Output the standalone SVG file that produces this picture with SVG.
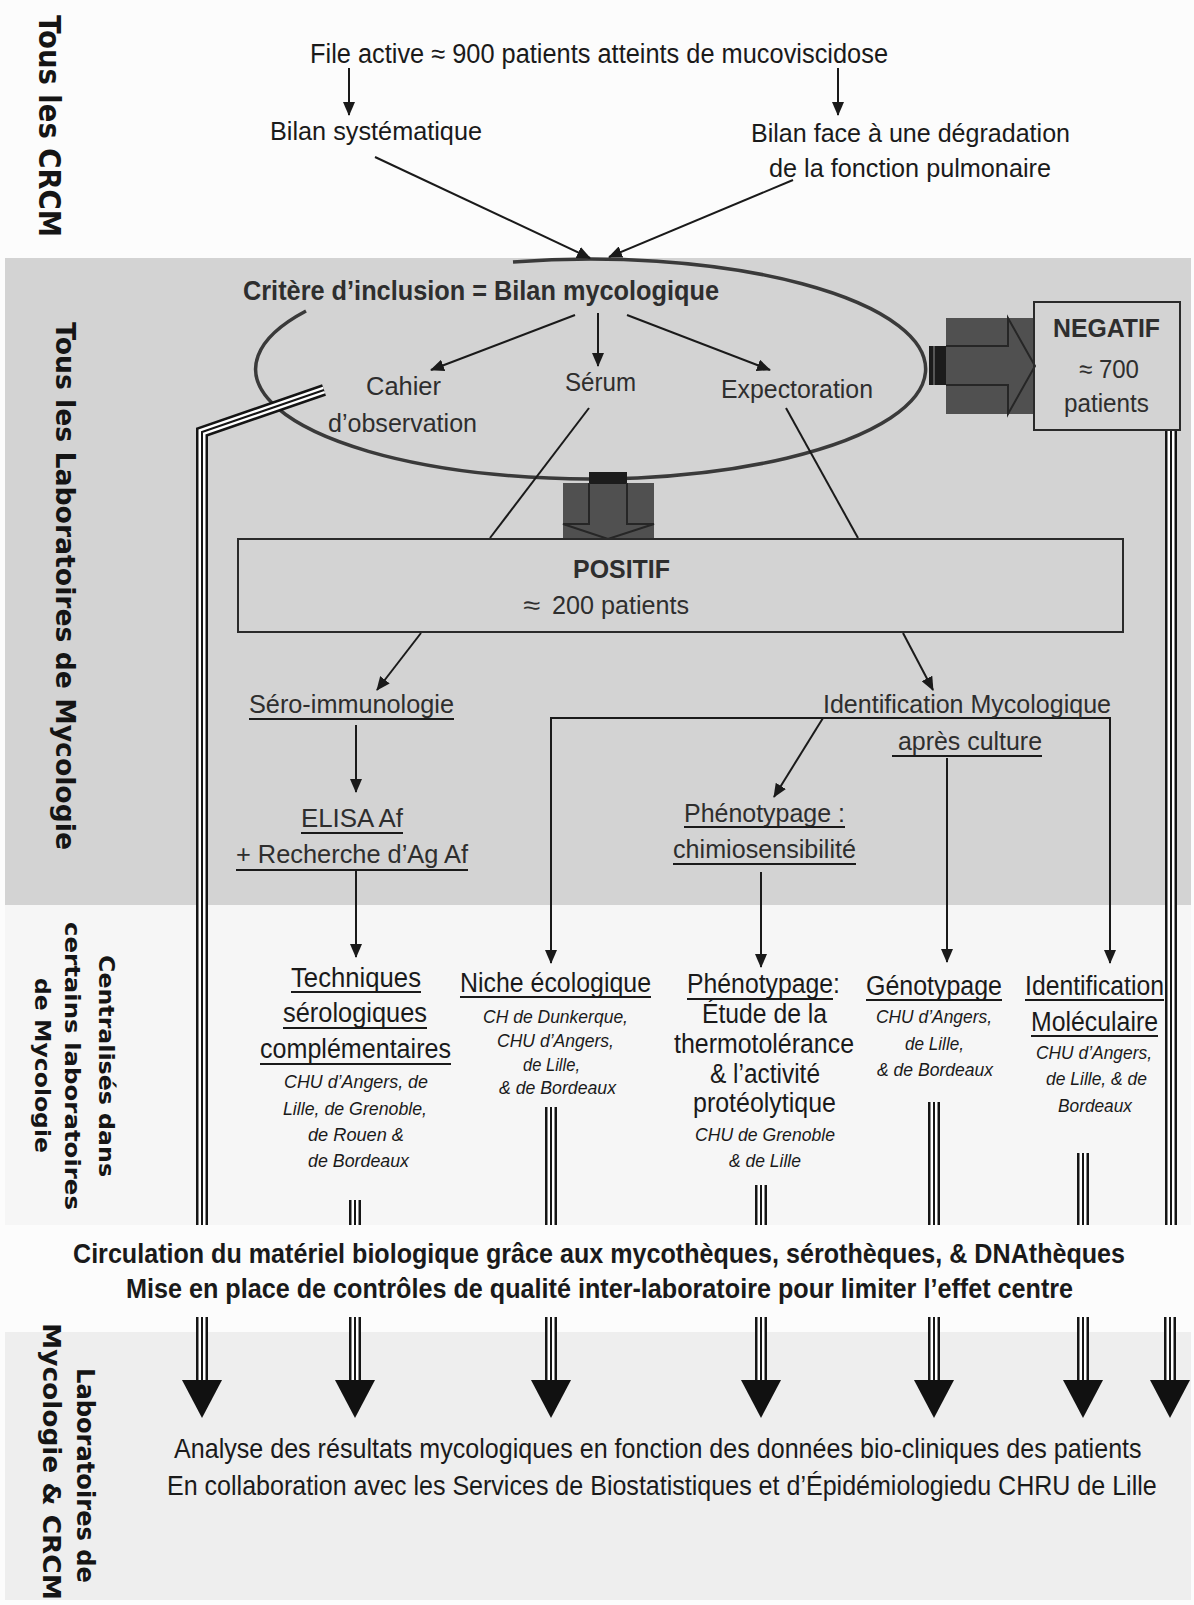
<svg xmlns="http://www.w3.org/2000/svg" xmlns:xlink="http://www.w3.org/1999/xlink" width="1194" height="1605" viewBox="0 0 1194 1605">
<defs>
<style>
.t{font-family:"Liberation Sans Narrow","Liberation Sans",Arial,sans-serif;fill:#1a1a1a}
.g{fill:#2e2e2e}
.b{font-weight:bold}
.i{font-style:italic}
.lab{font-family:"DejaVu Sans","Noto Sans",sans-serif;font-weight:bold;fill:#151515}
.ln{stroke:#1a1a1a;stroke-width:2;fill:none}
.ul{stroke:#1a1a1a;stroke-width:2}
.arr{marker-end:url(#ah)}
.r1{stroke:#151515;stroke-width:12;fill:none}
.r2{stroke:#ffffff;stroke-width:7;fill:none}
.r3{stroke:#151515;stroke-width:2;fill:none}
.box{fill:none;stroke:#2a2a2a;stroke-width:2}
</style>
<marker id="ah" viewBox="0 0 14 12" markerWidth="14" markerHeight="12" refX="13" refY="6" orient="auto" markerUnits="userSpaceOnUse">
<path d="M0,0 L14,6 L0,12 z" fill="#1a1a1a"/>
</marker>
<path id="railL" d="M324,390 L202,432 L202,1225"/>
<path id="railR" d="M1171,430 V1225"/>
<path id="s1" d="M355,1200 V1225"/>
<path id="s2" d="M551,1107 V1225"/>
<path id="s3" d="M761,1185 V1225"/>
<path id="s4" d="M934,1102 V1225"/>
<path id="s5" d="M1083,1153 V1225"/>
<path id="b1" d="M202,1317 V1384"/>
<path id="b2" d="M355,1317 V1384"/>
<path id="b3" d="M551,1317 V1384"/>
<path id="b4" d="M761,1317 V1384"/>
<path id="b5" d="M934,1317 V1384"/>
<path id="b6" d="M1083,1317 V1384"/>
<path id="b7" d="M1170,1317 V1384"/>
</defs>

<g id="background">
<rect x="0" y="0" width="1194" height="1605" fill="#fcfcfc"/>
<rect x="5" y="258" width="1186" height="647" fill="#d3d3d3"/>
<rect x="5" y="905" width="1186" height="320" fill="#f6f6f6"/>
<rect x="5" y="1332" width="1186" height="268" fill="#eeeeee"/>
</g>

<g id="band-labels">
<text class="lab" font-size="30" transform="translate(39,15) rotate(90)" textLength="222" lengthAdjust="spacingAndGlyphs">Tous les CRCM</text>
<text class="lab" font-size="26" transform="translate(56,322) rotate(90)" textLength="528" lengthAdjust="spacingAndGlyphs">Tous les Laboratoires de Mycologie</text>
<text class="lab" font-size="22" transform="translate(99,955) rotate(90)" textLength="222" lengthAdjust="spacingAndGlyphs">Centralisés dans</text>
<text class="lab" font-size="22" transform="translate(65,922) rotate(90)" textLength="288" lengthAdjust="spacingAndGlyphs">certains laboratoires</text>
<text class="lab" font-size="22" transform="translate(35,978) rotate(90)" textLength="175" lengthAdjust="spacingAndGlyphs">de Mycologie</text>
<text class="lab" font-size="24" transform="translate(77,1368) rotate(90)" textLength="215" lengthAdjust="spacingAndGlyphs">Laboratoires de</text>
<text class="lab" font-size="24" transform="translate(43,1323) rotate(90)" textLength="277" lengthAdjust="spacingAndGlyphs">Mycologie &amp; CRCM</text>
</g>

<g id="ellipse-inclusion">
<path d="M513,262 A335,110 0 1 1 306,311" fill="none" stroke="#3a3a3a" stroke-width="3.5"/>
</g>

<g id="block-arrow-positif">
<rect x="563" y="483" width="91" height="56" fill="#505050"/>
<rect x="589" y="472" width="38" height="12" fill="#1c1c1c"/>
<path d="M589,483 V524 H563 L608,539 L654,524 H627 V483" fill="none" stroke="#262626" stroke-width="2"/>
</g>

<g id="block-arrow-negatif">
<rect x="946" y="318" width="89" height="96" fill="#505050"/>
<rect x="929" y="346" width="17" height="39" fill="#1c1c1c"/>
<line x1="934" y1="346" x2="934" y2="385" stroke="#6a6a6a" stroke-width="1.5"/>
<path d="M946,346 H1008 V318 L1035,366 L1008,414 V385 H946" fill="none" stroke="#262626" stroke-width="2"/>
</g>

<g id="rails">
<use xlink:href="#railL" class="r1"/><use xlink:href="#railL" class="r2"/><use xlink:href="#railL" class="r3"/>
<use xlink:href="#railR" class="r1"/><use xlink:href="#railR" class="r2"/><use xlink:href="#railR" class="r3"/>
<use xlink:href="#s1" class="r1"/><use xlink:href="#s1" class="r2"/><use xlink:href="#s1" class="r3"/>
<use xlink:href="#s2" class="r1"/><use xlink:href="#s2" class="r2"/><use xlink:href="#s2" class="r3"/>
<use xlink:href="#s3" class="r1"/><use xlink:href="#s3" class="r2"/><use xlink:href="#s3" class="r3"/>
<use xlink:href="#s4" class="r1"/><use xlink:href="#s4" class="r2"/><use xlink:href="#s4" class="r3"/>
<use xlink:href="#s5" class="r1"/><use xlink:href="#s5" class="r2"/><use xlink:href="#s5" class="r3"/>
<use xlink:href="#b1" class="r1"/><use xlink:href="#b1" class="r2"/><use xlink:href="#b1" class="r3"/>
<use xlink:href="#b2" class="r1"/><use xlink:href="#b2" class="r2"/><use xlink:href="#b2" class="r3"/>
<use xlink:href="#b3" class="r1"/><use xlink:href="#b3" class="r2"/><use xlink:href="#b3" class="r3"/>
<use xlink:href="#b4" class="r1"/><use xlink:href="#b4" class="r2"/><use xlink:href="#b4" class="r3"/>
<use xlink:href="#b5" class="r1"/><use xlink:href="#b5" class="r2"/><use xlink:href="#b5" class="r3"/>
<use xlink:href="#b6" class="r1"/><use xlink:href="#b6" class="r2"/><use xlink:href="#b6" class="r3"/>
<use xlink:href="#b7" class="r1"/><use xlink:href="#b7" class="r2"/><use xlink:href="#b7" class="r3"/>
<g fill="#111">
<polygon points="182,1380 222,1380 202,1418"/>
<polygon points="335,1380 375,1380 355,1418"/>
<polygon points="531,1380 571,1380 551,1418"/>
<polygon points="741,1380 781,1380 761,1418"/>
<polygon points="914,1380 954,1380 934,1418"/>
<polygon points="1063,1380 1103,1380 1083,1418"/>
<polygon points="1150,1380 1190,1380 1170,1418"/>
</g>
</g>

<g id="connectors">
<line class="ln arr" x1="349" y1="68" x2="349" y2="115"/>
<line class="ln arr" x1="838" y1="68" x2="838" y2="115"/>
<line class="ln arr" x1="375" y1="157" x2="590" y2="258"/>
<line class="ln arr" x1="793" y1="180" x2="609" y2="257"/>
<line class="ln arr" x1="575" y1="315" x2="431" y2="370"/>
<line class="ln arr" x1="598" y1="313" x2="598" y2="366"/>
<line class="ln arr" x1="627" y1="315" x2="770" y2="370"/>
<line class="ln" x1="589" y1="408" x2="490" y2="538"/>
<line class="ln" x1="786" y1="408" x2="858" y2="538"/>
<line class="ln arr" x1="421" y1="633" x2="377" y2="690"/>
<line class="ln arr" x1="903" y1="633" x2="933" y2="690"/>
<line class="ln arr" x1="356" y1="725" x2="356" y2="792"/>
<line class="ln arr" x1="356" y1="871" x2="356" y2="957"/>
<path class="ln arr" d="M830,718 H551 V963"/>
<path class="ln arr" d="M830,718 H1110 V963"/>
<line class="ln arr" x1="823" y1="718" x2="774" y2="797"/>
<line class="ln arr" x1="947" y1="758" x2="947" y2="962"/>
<line class="ln arr" x1="761" y1="872" x2="761" y2="967"/>
</g>

<g id="file-active">
<text class="t" x="310" y="63" font-size="27" textLength="578" lengthAdjust="spacingAndGlyphs">File active ≈ 900 patients atteints de mucoviscidose</text>
</g>
<g id="bilan-systematique">
<text class="t" x="270" y="140" font-size="26" textLength="212" lengthAdjust="spacingAndGlyphs">Bilan systématique</text>
</g>
<g id="bilan-degradation">
<text class="t" x="751" y="142" font-size="26" textLength="319" lengthAdjust="spacingAndGlyphs">Bilan face à une dégradation</text>
<text class="t" x="769" y="177" font-size="26" textLength="282" lengthAdjust="spacingAndGlyphs">de la fonction pulmonaire</text>
</g>

<g id="critere">
<text class="t g b" x="243" y="300" font-size="27" textLength="476" lengthAdjust="spacingAndGlyphs">Critère d’inclusion = Bilan mycologique</text>
</g>
<g id="cahier">
<text class="t g" x="366" y="395" font-size="25" textLength="75" lengthAdjust="spacingAndGlyphs">Cahier</text>
<text class="t g" x="328" y="432" font-size="25" textLength="149" lengthAdjust="spacingAndGlyphs">d’observation</text>
</g>
<g id="serum">
<text class="t g" x="565" y="391" font-size="25" textLength="71" lengthAdjust="spacingAndGlyphs">Sérum</text>
</g>
<g id="expectoration">
<text class="t g" x="721" y="398" font-size="25" textLength="152" lengthAdjust="spacingAndGlyphs">Expectoration</text>
</g>

<g id="positif">
<rect class="box" x="238" y="539" width="885" height="93"/>
<text class="t g b" x="573" y="578" font-size="26" textLength="97" lengthAdjust="spacingAndGlyphs">POSITIF</text>
<text class="t g" x="523" y="614" font-size="26" textLength="17" lengthAdjust="spacingAndGlyphs">≈</text>
<text class="t g" x="552" y="614" font-size="26" textLength="137" lengthAdjust="spacingAndGlyphs">200 patients</text>
</g>

<g id="negatif">
<rect class="box" x="1034" y="302" width="146" height="128" fill="#d3d3d3"/>
<text class="t g b" x="1053" y="337" font-size="25" textLength="107" lengthAdjust="spacingAndGlyphs">NEGATIF</text>
<text class="t g" x="1079" y="378" font-size="26" textLength="60" lengthAdjust="spacingAndGlyphs">≈ 700</text>
<text class="t g" x="1064" y="412" font-size="26" textLength="85" lengthAdjust="spacingAndGlyphs">patients</text>
</g>

<g id="sero-immunologie">
<text class="t g" x="249" y="713" font-size="26" textLength="205" lengthAdjust="spacingAndGlyphs">Séro-immunologie</text>
<line class="ul" x1="249" y1="719" x2="454" y2="719"/>
</g>
<g id="elisa">
<text class="t g" x="301" y="827" font-size="26" textLength="102" lengthAdjust="spacingAndGlyphs">ELISA Af</text>
<line class="ul" x1="301" y1="833" x2="403" y2="833"/>
<text class="t g" x="236" y="863" font-size="26" textLength="232" lengthAdjust="spacingAndGlyphs">+ Recherche d’Ag Af</text>
<line class="ul" x1="236" y1="870" x2="468" y2="870"/>
</g>
<g id="identification-mycologique">
<text class="t g" x="823" y="713" font-size="26" textLength="288" lengthAdjust="spacingAndGlyphs">Identification Mycologique</text>
<text class="t g" x="898" y="750" font-size="26" textLength="144" lengthAdjust="spacingAndGlyphs">après culture</text>
<line class="ul" x1="892" y1="756" x2="1042" y2="756"/>
</g>
<g id="phenotypage-chimio">
<text class="t g" x="684" y="822" font-size="26" textLength="161" lengthAdjust="spacingAndGlyphs">Phénotypage :</text>
<line class="ul" x1="684" y1="827" x2="845" y2="827"/>
<text class="t g" x="673" y="858" font-size="26" textLength="183" lengthAdjust="spacingAndGlyphs">chimiosensibilité</text>
<line class="ul" x1="673" y1="864" x2="856" y2="864"/>
</g>

<g id="techniques-serologiques">
<text class="t" x="291" y="987" font-size="27" textLength="130" lengthAdjust="spacingAndGlyphs">Techniques</text>
<line class="ul" x1="291" y1="992" x2="421" y2="992"/>
<text class="t" x="283" y="1022" font-size="27" textLength="144" lengthAdjust="spacingAndGlyphs">sérologiques</text>
<line class="ul" x1="283" y1="1028" x2="427" y2="1028"/>
<text class="t" x="260" y="1058" font-size="27" textLength="191" lengthAdjust="spacingAndGlyphs">complémentaires</text>
<line class="ul" x1="260" y1="1064" x2="451" y2="1064"/>
<text class="t i" x="284" y="1088" font-size="18" textLength="144" lengthAdjust="spacingAndGlyphs">CHU d’Angers, de</text>
<text class="t i" x="283" y="1115" font-size="18" textLength="144" lengthAdjust="spacingAndGlyphs">Lille, de Grenoble,</text>
<text class="t i" x="308" y="1141" font-size="18" textLength="96" lengthAdjust="spacingAndGlyphs">de Rouen &amp;</text>
<text class="t i" x="308" y="1167" font-size="18" textLength="101" lengthAdjust="spacingAndGlyphs">de Bordeaux</text>
</g>

<g id="niche-ecologique">
<text class="t" x="460" y="992" font-size="27" textLength="191" lengthAdjust="spacingAndGlyphs">Niche écologique</text>
<line class="ul" x1="460" y1="997" x2="651" y2="997"/>
<text class="t i" x="483" y="1023" font-size="18" textLength="145" lengthAdjust="spacingAndGlyphs">CH de Dunkerque,</text>
<text class="t i" x="497" y="1047" font-size="18" textLength="117" lengthAdjust="spacingAndGlyphs">CHU d’Angers,</text>
<text class="t i" x="523" y="1071" font-size="18" textLength="57" lengthAdjust="spacingAndGlyphs">de Lille,</text>
<text class="t i" x="499" y="1094" font-size="18" textLength="117" lengthAdjust="spacingAndGlyphs">&amp; de Bordeaux</text>
</g>

<g id="phenotypage-thermo">
<text class="t" x="687" y="993" font-size="27" textLength="153" lengthAdjust="spacingAndGlyphs">Phénotypage:</text>
<line class="ul" x1="687" y1="999" x2="833" y2="999"/>
<text class="t" x="702" y="1023" font-size="27" textLength="125" lengthAdjust="spacingAndGlyphs">Étude de la</text>
<text class="t" x="674" y="1053" font-size="27" textLength="180" lengthAdjust="spacingAndGlyphs">thermotolérance</text>
<text class="t" x="710" y="1083" font-size="27" textLength="110" lengthAdjust="spacingAndGlyphs">&amp; l’activité</text>
<text class="t" x="693" y="1112" font-size="27" textLength="143" lengthAdjust="spacingAndGlyphs">protéolytique</text>
<text class="t i" x="695" y="1141" font-size="18" textLength="140" lengthAdjust="spacingAndGlyphs">CHU de Grenoble</text>
<text class="t i" x="729" y="1167" font-size="18" textLength="72" lengthAdjust="spacingAndGlyphs">&amp; de Lille</text>
</g>

<g id="genotypage">
<text class="t" x="866" y="995" font-size="27" textLength="136" lengthAdjust="spacingAndGlyphs">Génotypage</text>
<line class="ul" x1="866" y1="1000" x2="1002" y2="1000"/>
<text class="t i" x="876" y="1023" font-size="18" textLength="116" lengthAdjust="spacingAndGlyphs">CHU d’Angers,</text>
<text class="t i" x="905" y="1050" font-size="18" textLength="59" lengthAdjust="spacingAndGlyphs">de Lille,</text>
<text class="t i" x="877" y="1076" font-size="18" textLength="116" lengthAdjust="spacingAndGlyphs">&amp; de Bordeaux</text>
</g>

<g id="identification-moleculaire">
<text class="t" x="1025" y="995" font-size="27" textLength="139" lengthAdjust="spacingAndGlyphs">Identification</text>
<line class="ul" x1="1025" y1="1000" x2="1164" y2="1000"/>
<text class="t" x="1031" y="1031" font-size="27" textLength="127" lengthAdjust="spacingAndGlyphs">Moléculaire</text>
<line class="ul" x1="1031" y1="1036" x2="1158" y2="1036"/>
<text class="t i" x="1036" y="1059" font-size="18" textLength="116" lengthAdjust="spacingAndGlyphs">CHU d’Angers,</text>
<text class="t i" x="1046" y="1085" font-size="18" textLength="101" lengthAdjust="spacingAndGlyphs">de Lille, &amp; de</text>
<text class="t i" x="1058" y="1112" font-size="18" textLength="74" lengthAdjust="spacingAndGlyphs">Bordeaux</text>
</g>

<g id="circulation">
<text class="t b" transform="translate(73,1263) scale(0.82,1)" x="0" y="0" font-size="27" textLength="1283" lengthAdjust="spacingAndGlyphs">Circulation du matériel biologique grâce aux mycothèques, sérothèques, &amp; DNAthèques</text>
<text class="t b" transform="translate(126,1298) scale(0.82,1)" x="0" y="0" font-size="27" textLength="1155" lengthAdjust="spacingAndGlyphs">Mise en place de contrôles de qualité inter-laboratoire pour limiter l’effet centre</text>
</g>

<g id="analyse">
<text class="t" transform="translate(174,1458) scale(0.82,1)" x="0" y="0" font-size="28" textLength="1180" lengthAdjust="spacingAndGlyphs">Analyse des résultats mycologiques en fonction des données bio-cliniques des patients</text>
<text class="t" transform="translate(167,1495) scale(0.82,1)" x="0" y="0" font-size="28" textLength="1207" lengthAdjust="spacingAndGlyphs">En collaboration avec les Services de Biostatistiques et d’Épidémiologiedu CHRU de Lille</text>
</g>
</svg>
